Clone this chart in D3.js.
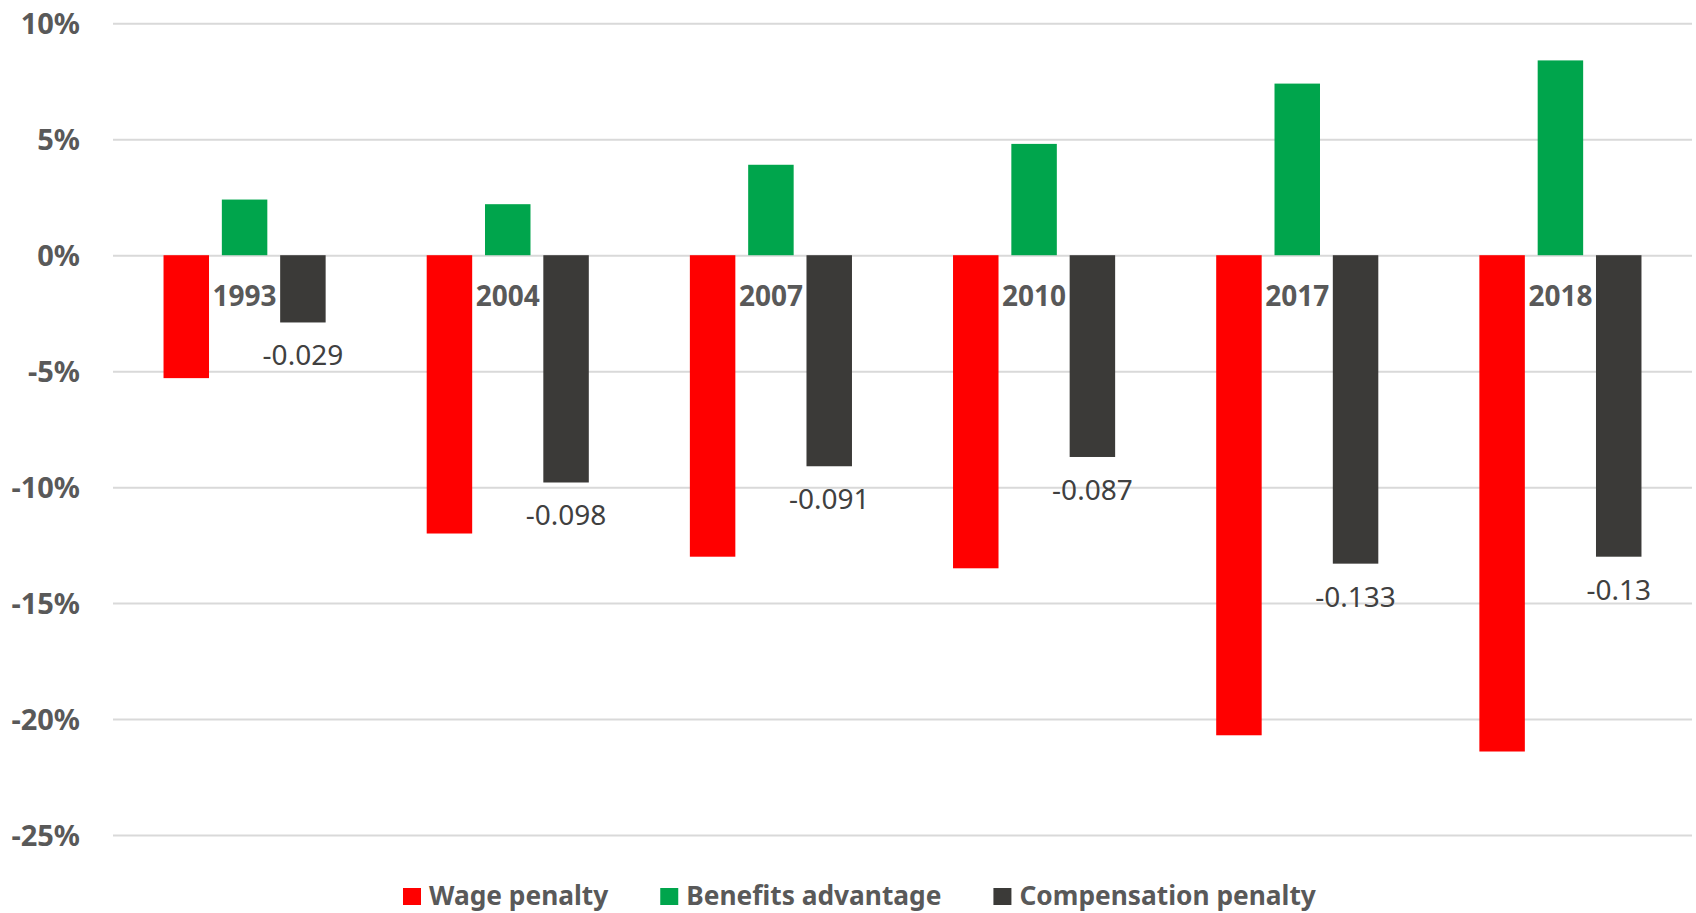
<!DOCTYPE html>
<html>
<head>
<meta charset="utf-8">
<script src="https://cdn.jsdelivr.net/npm/d3@7/dist/d3.min.js"></script>
<style>
  html, body { margin: 0; padding: 0; background: #ffffff; }
  svg { display: block; }
  text { font-family: "Noto Sans", "Open Sans", sans-serif; }
</style>
</head>
<body>
<svg id="chart" width="1696" height="913"></svg>
<script>
// Survey years
const years = ["1993", "2004", "2007", "2010", "2017", "2018"];

// Series (percent)
const wagePenalty = [-5.3, -12.0, -13.0, -13.5, -20.7, -21.4];
const benefitsAdvantage = [2.4, 2.2, 3.9, 4.8, 7.4, 8.4];
const compensationPenalty = [-2.9, -9.8, -9.1, -8.7, -13.3, -13.0];

// Labels printed under the compensation bars
const compensationLabels = ["-0.029", "-0.098", "-0.091", "-0.087", "-0.133", "-0.13"];

// Y axis tick values (percent)
const yTicks = [10, 5, 0, -5, -10, -15, -20, -25];

const seriesNames = ["Wage penalty", "Benefits advantage", "Compensation penalty"];
const seriesColors = ["#ff0000", "#00a54c", "#3b3a38"];
const seriesValues = [wagePenalty, benefitsAdvantage, compensationPenalty];

const svg = d3.select("#chart");

const plot = { left: 113, right: 1692, top: 23.3, bottom: 835 };

const x0 = d3.scaleBand().domain(years).range([plot.left, plot.right]).padding(0);
const clusterFrac = 0.616;
const x1 = d3.scaleBand()
  .domain(seriesNames)
  .range([0, x0.bandwidth() * clusterFrac])
  .paddingInner(0.22)
  .paddingOuter(0);
const clusterOffset = x0.bandwidth() * (1 - clusterFrac) / 2;

const y = d3.scaleLinear().domain([-25, 10]).range([plot.bottom, plot.top]);

// Horizontal gridlines
const grid = svg.append("g")
  .attr("transform", `translate(${plot.left},0)`)
  .call(d3.axisLeft(y).tickValues(yTicks).tickSize(-(plot.right - plot.left)).tickFormat(""));
grid.select(".domain").remove();
grid.selectAll("line").attr("stroke", "#d9d9d9").attr("stroke-width", 2);

// Y axis labels
const yAxis = svg.append("g")
  .attr("transform", `translate(${plot.left},0)`)
  .call(d3.axisLeft(y).tickValues(yTicks).tickSize(0).tickPadding(33).tickFormat(d => d + "%"));
yAxis.select(".domain").remove();
yAxis.selectAll("text")
  .attr("fill", "#595959")
  .style("font-family", "\"Noto Sans\", sans-serif")
  .style("font-size", "29px")
  .style("font-weight", "bold")
  .attr("dy", null)
  .attr("y", 10.5);

// Bars
const rows = years.map((yr, i) => ({
  year: yr,
  items: seriesNames.map((s, k) => ({ series: s, value: seriesValues[k][i], color: seriesColors[k] }))
}));

const groups = svg.append("g").selectAll("g")
  .data(rows)
  .join("g")
  .attr("transform", d => `translate(${x0(d.year) + clusterOffset},0)`);

groups.selectAll("rect")
  .data(d => d.items)
  .join("rect")
  .attr("x", d => x1(d.series))
  .attr("width", x1.bandwidth())
  .attr("y", d => y(Math.max(0, d.value)))
  .attr("height", d => Math.abs(y(d.value) - y(0)))
  .attr("fill", d => d.color);

// Year labels sitting just below the zero line
const xAxis = svg.append("g")
  .attr("transform", `translate(0,${y(0)})`)
  .call(d3.axisBottom(x0).tickSize(0).tickPadding(0));
xAxis.select(".domain").remove();
xAxis.selectAll("text")
  .attr("fill", "#595959")
  .style("font-family", "\"Noto Sans\", sans-serif")
  .style("font-size", "28px")
  .style("font-weight", "bold")
  .attr("dy", null)
  .attr("y", 51);

// Value labels under the compensation bars
svg.append("g").selectAll("text")
  .data(years.map((yr, i) => ({ year: yr, value: compensationPenalty[i], label: compensationLabels[i] })))
  .join("text")
  .attr("x", d => x0(d.year) + clusterOffset + x1("Compensation penalty") + x1.bandwidth() / 2)
  .attr("y", d => y(d.value) + 43)
  .attr("text-anchor", "middle")
  .attr("fill", "#404040")
  .style("font-size", "28px")
  .text(d => d.label);

// Legend
const legend = svg.append("g").attr("transform", "translate(403,0)");
let cursor = 0;
seriesNames.forEach((name, k) => {
  const item = legend.append("g").attr("transform", `translate(${cursor},0)`);
  item.append("rect")
    .attr("x", 0).attr("y", 888)
    .attr("width", 18).attr("height", 17)
    .attr("fill", seriesColors[k]);
  const t = item.append("text")
    .attr("x", 26).attr("y", 905)
    .attr("fill", "#595959")
    .style("font-size", "26.3px")
    .style("font-weight", "bold")
    .text(name);
  cursor += 26 + t.node().getComputedTextLength() + 52;
});
</script>
</body>
</html>
